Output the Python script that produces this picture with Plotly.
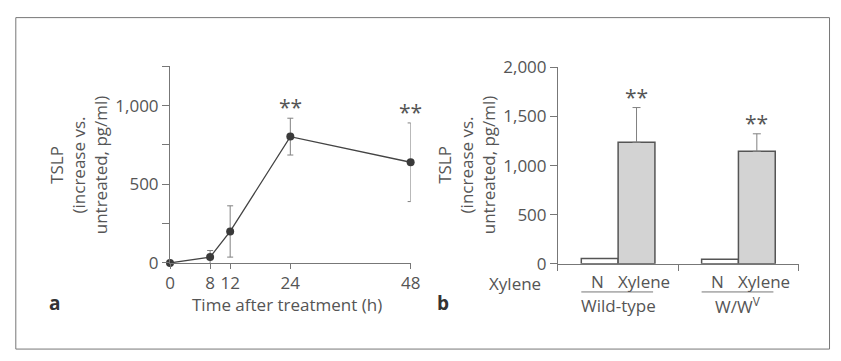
import plotly.graph_objects as go

W, H = 841, 361

# ---- Data panel a ----
time_h = [0, 8, 12, 24, 48]
tslp_time = [0, 37, 200, 803, 640]
tslp_time_err = [0, 42, 163, 117, 250]
time_sig = [False, False, False, True, True]

# ---- Data panel b ----
groups = ["Wild-type", "W/W<sup>V</sup>"]
n_vals = [54, 48]
xyl_vals = [1237, 1145]
xyl_err = [353, 178]

FONT = "Open Sans"
TXT = "#555555"
LINE = "#444444"
FS = 17


def px(x):
    return x / W


def py(y):
    return 1 - y / H


fig = go.Figure()

# panel a line
fig.add_trace(go.Scatter(
    x=time_h, y=tslp_time, mode="lines+markers",
    line=dict(color=LINE, width=1.3),
    marker=dict(color="#3a3a3a", size=8),
    error_y=dict(type="data", array=tslp_time_err, visible=True,
                 color="#808080", thickness=1, width=3),
    cliponaxis=False, xaxis="x", yaxis="y", showlegend=False))

# panel b bars
gx = [0.5, 1.5]
bw = 0.306
fig.add_trace(go.Bar(
    x=[g - bw / 2 for g in gx], y=n_vals, width=bw,
    marker=dict(color="white", line=dict(color="#555555", width=1.5)),
    xaxis="x2", yaxis="y2", showlegend=False))
fig.add_trace(go.Bar(
    x=[g + bw / 2 for g in gx], y=xyl_vals, width=bw,
    marker=dict(color="#d3d3d3", line=dict(color="#555555", width=1.5)),
    error_y=dict(type="data", array=xyl_err, arrayminus=[0, 0], symmetric=False,
                 visible=True, color="#808080", thickness=1, width=4),
    xaxis="x2", yaxis="y2", showlegend=False))

axis_common = dict(showline=True, linecolor="#777777", linewidth=1, ticks="outside",
                   tickcolor="#777777", showgrid=False, zeroline=False,
                   tickfont=dict(family=FONT, size=FS, color=TXT))

fig.update_layout(
    width=W, height=H, margin=dict(l=0, r=0, t=0, b=0),
    paper_bgcolor="white", plot_bgcolor="white",
    font=dict(family=FONT, size=FS, color=TXT),
    barmode="overlay",
    xaxis=dict(domain=[px(168), px(413)], range=[0, 48], tickvals=time_h,
               ticklen=5, anchor="y", **axis_common),
    yaxis=dict(domain=[py(268), py(58)], range=[0, 1250],
               tickvals=[0, 500, 1000], tickformat=",d", ticklen=7,
               minor=dict(tick0=0, dtick=250, ticks="outside", ticklen=7,
                          tickcolor="#777777", showgrid=False),
               anchor="x", **axis_common),
    xaxis2=dict(domain=[px(563), px(808)], range=[0, 2], tickvals=[0, 1, 2],
                showticklabels=False, ticklen=6, anchor="y2", **axis_common),
    yaxis2=dict(domain=[py(269), py(59)], range=[0, 2000],
                tickvals=[0, 500, 1000, 1500, 2000], tickformat=",d",
                ticklen=7, anchor="x2", **axis_common),
)

ann = []
# stars panel a
for t, v, e, s in zip(time_h, tslp_time, tslp_time_err, time_sig):
    if s:
        ann.append(dict(x=t, y=v + e, xref="x", yref="y", text="**", showarrow=False,
                        yanchor="middle", yshift=11, font=dict(size=21, color=TXT)))
# stars panel b
for g, v, e in zip(gx, xyl_vals, xyl_err):
    ann.append(dict(x=g + bw / 2, y=v + e, xref="x2", yref="y2", text="**", showarrow=False,
                    yanchor="middle", yshift=11, font=dict(size=21, color=TXT)))

# y titles
ytitle = "TSLP<br>(increase vs.<br>untreated, pg/ml)"
ann.append(dict(x=px(75), y=py(163), xref="paper", yref="paper", text=ytitle,
                textangle=-90, showarrow=False, xanchor="center", yanchor="middle",
                font=dict(size=FS, color=TXT)))
ann.append(dict(x=px(470), y=py(163), xref="paper", yref="paper", text=ytitle,
                textangle=-90, showarrow=False, xanchor="center", yanchor="middle",
                font=dict(size=FS, color=TXT)))

# x title a
ann.append(dict(x=px(287), y=py(312), xref="paper", yref="paper",
                text="Time after treatment (h)", showarrow=False,
                xanchor="center", yanchor="middle", font=dict(size=FS, color=TXT)))

# panel letters
ann.append(dict(x=px(50), y=py(311), xref="paper", yref="paper", text="<b>a</b>",
                showarrow=False, xanchor="center", yanchor="middle",
                font=dict(size=19, color="#333333")))
ann.append(dict(x=px(446), y=py(311), xref="paper", yref="paper", text="<b>b</b>",
                showarrow=False, xanchor="center", yanchor="middle",
                font=dict(size=19, color="#333333")))

# panel b category labels
ann.append(dict(x=px(519), y=py(290), xref="paper", yref="paper", text="Xylene",
                showarrow=False, xanchor="center", yanchor="middle",
                font=dict(size=FS, color=TXT)))
shapes = []
for g, name in zip(gx, groups):
    ann.append(dict(x=g - bw / 2 - 0.02, y=py(288), xref="x2", yref="paper", text="N",
                    showarrow=False, xanchor="center", yanchor="middle",
                    font=dict(size=FS, color=TXT)))
    ann.append(dict(x=g + bw / 2 + 0.06, y=py(288), xref="x2", yref="paper", text="Xylene",
                    showarrow=False, xanchor="center", yanchor="middle",
                    font=dict(size=FS, color=TXT)))
    ann.append(dict(x=g, y=py(314), xref="x2", yref="paper", text=name,
                    showarrow=False, xanchor="center", yanchor="middle",
                    font=dict(size=FS, color=TXT)))
    shapes.append(dict(type="line", xref="x2", yref="paper", x0=g - bw, x1=g + bw * 0.95,
                       y0=py(299), y1=py(299), line=dict(color="#777777", width=1)))

# outer frame
shapes.append(dict(type="rect", xref="paper", yref="paper", x0=px(11), x1=px(839.5),
                   y0=py(360), y1=py(6), line=dict(color="#777777", width=1)))

fig.update_layout(annotations=ann, shapes=shapes)
fig.write_html("out.html")
